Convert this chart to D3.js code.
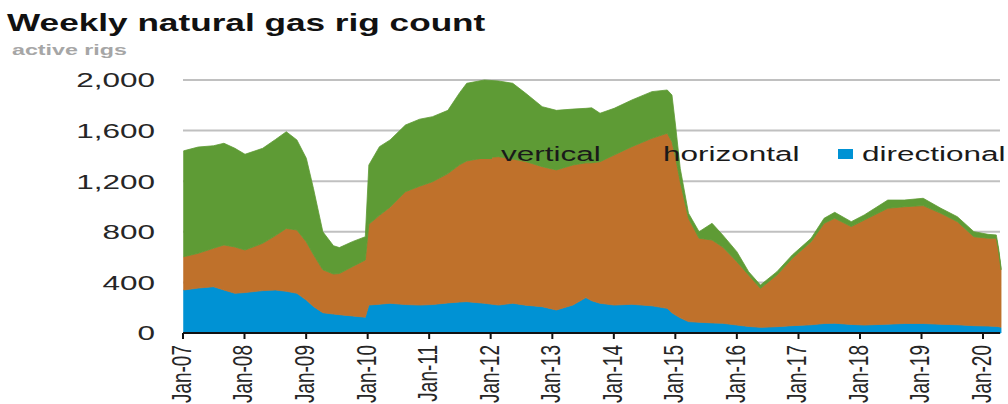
<!DOCTYPE html>
<html lang="en">
<head>
    <meta charset="UTF-8">
    <title>Weekly natural gas rig count</title>
    <style>
        body {
            margin: 0;
            background: #fff;
            font-family: "Liberation Sans", Arial, sans-serif;
        }
        svg { display: block; }
        .grid line { stroke: #c0c0c0; stroke-width: 2px; }
    </style>
</head>
<body>
    <div id="chart"></div>

    <script src="https://d3js.org/d3.v7.min.js"></script>
    <script>
        const dates = [
            "2007-01-05", "2007-04-01", "2007-07-01", "2007-09-01", "2007-11-05",
            "2008-01-04", "2008-04-18", "2008-07-03", "2008-09-05", "2008-11-07",
            "2009-01-02", "2009-02-13", "2009-04-10", "2009-06-12", "2009-07-17",
            "2009-10-02", "2009-12-18", "2010-01-08", "2010-03-12", "2010-05-14",
            "2010-08-13", "2010-11-05", "2011-01-21", "2011-04-22", "2011-07-01",
            "2011-08-12", "2011-11-25", "2012-02-17", "2012-05-11", "2012-07-27",
            "2012-11-02", "2013-01-25", "2013-05-03", "2013-07-19", "2013-08-23",
            "2013-10-11", "2014-01-03", "2014-04-18", "2014-08-15", "2014-11-14",
            "2014-12-12", "2015-01-02", "2015-01-30", "2015-03-20", "2015-05-22",
            "2015-08-07", "2015-10-09", "2016-01-01", "2016-03-11", "2016-05-20",
            "2016-08-26", "2016-11-25", "2017-03-17", "2017-06-02", "2017-08-04",
            "2017-11-10", "2018-01-26", "2018-06-15", "2018-09-21", "2019-01-11",
            "2019-04-26", "2019-08-02", "2019-11-08", "2020-01-31", "2020-03-20",
            "2020-04-03", "2020-04-17"
        ];
        const directional = [
            340, 355, 366, 340, 314, 320, 335, 340, 330, 314,
            260, 210, 160, 150, 145, 135, 125, 221, 228, 235,
            225, 221, 225, 238, 245, 248, 235, 221, 235, 220,
            208, 182, 221, 280, 255, 235, 221, 227, 215, 195,
            160, 142, 120, 90, 85, 80, 77, 63, 52, 45,
            50, 58, 65, 75, 77, 68, 63, 70, 75, 75,
            69, 65, 58, 55, 52, 50, 45
        ];
        const horizontal = [
            263, 275, 304, 356, 366, 336, 374, 430, 497, 500,
            460, 410, 340, 316, 325, 389, 452, 639, 702, 760,
            892, 939, 971, 1022, 1085, 1112, 1150, 1173, 1140, 1135,
            1107, 1107, 1107, 1065, 1090, 1119, 1186, 1246, 1324, 1384,
            1352, 1248, 1076, 817, 664, 655, 603, 501, 406, 308,
            408, 532, 657, 792, 830, 773, 830, 916, 923, 932,
            877, 815, 703, 694, 697, 590, 455
        ];
        const vertical = [
            837, 840, 810, 804, 780, 757, 751, 760, 764, 712,
            661, 524, 300, 224, 205, 198, 184, 468, 543, 531,
            527, 530, 514, 500, 570, 614, 615, 598, 599, 540,
            474, 471, 442, 431, 435, 383, 369, 369, 369, 342,
            369, 254, 106, 40, 52, 132, 95, 79, 27, 26,
            27, 27, 27, 40, 47, 39, 40, 65, 53, 58,
            40, 39, 40, 31, 26, 25, 20
        ];
        const seriesKeys = ["directional", "horizontal", "vertical"];
        const seriesColors = { directional: "#0092d4", horizontal: "#bf712b", vertical: "#5e9b35" };
        const legendOrder = ["vertical", "horizontal", "directional"];
        const yTicks = [0, 400, 800, 1200, 1600, 2000];
        const tickYears = d3.range(2007, 2021);

        const width = 1008, height = 404;
        const sx = 1.5; // the source image is stretched sideways, so is its text

        const svg = d3.select("#chart").append("svg")
            .attr("width", width)
            .attr("height", height);

        const parse = d3.timeParse("%Y-%m-%d");
        const rows = dates.map((d, i) => ({
            date: parse(d),
            directional: directional[i],
            horizontal: horizontal[i],
            vertical: vertical[i]
        }));

        const x = d3.scaleTime()
            .domain([new Date(2007, 0, 1), new Date(2020, 0, 1)])
            .range([183, 983]);
        const y = d3.scaleLinear().domain([0, 2000]).range([333, 80]);

        // gridlines behind the areas
        svg.append("g").attr("class", "grid")
            .selectAll("line")
            .data(yTicks.filter(t => t > 0))
            .join("line")
            .attr("x1", 183).attr("x2", 1000)
            .attr("y1", d => y(d)).attr("y2", d => y(d));

        const stacked = d3.stack().keys(seriesKeys)(rows);
        const area = d3.area()
            .x(d => x(d.data.date))
            .y0(d => y(d[0]))
            .y1(d => y(d[1]));

        svg.append("g").selectAll("path")
            .data(stacked)
            .join("path")
            .attr("d", area)
            .attr("fill", d => seriesColors[d.key])
            .attr("stroke", d => seriesColors[d.key])
            .attr("stroke-width", 0.8);

        // y labels
        svg.append("g").selectAll("text")
            .data(yTicks)
            .join("text")
            .attr("transform", d => `translate(155,${y(d)}) scale(${sx},1)`)
            .attr("dy", "0.35em")
            .attr("text-anchor", "end")
            .attr("font-size", 21)
            .attr("fill", "#262626")
            .text(d3.format(","));

        // x axis
        const xAxis = svg.append("g");
        xAxis.append("line")
            .attr("x1", 183).attr("x2", 1000)
            .attr("y1", 333).attr("y2", 333)
            .attr("stroke", "#111").attr("stroke-width", 2);
        xAxis.selectAll("line.tick")
            .data(tickYears)
            .join("line")
            .attr("class", "tick")
            .attr("x1", d => x(new Date(d, 0, 1))).attr("x2", d => x(new Date(d, 0, 1)))
            .attr("y1", 333).attr("y2", 339)
            .attr("stroke", "#111").attr("stroke-width", 2);
        xAxis.selectAll("text")
            .data(tickYears)
            .join("text")
            .attr("transform", d => `translate(${x(new Date(d, 0, 1)) - 2},345) scale(${sx},1) rotate(-90)`)
            .attr("dy", "0.35em")
            .attr("text-anchor", "end")
            .attr("font-size", 19)
            .attr("fill", "#262626")
            .text(d => d3.timeFormat("%b-%y")(new Date(d, 0, 1)));

        // legend
        const legendX = { vertical: 501, horizontal: 663, directional: 862 };
        const legend = svg.append("g");
        legendOrder.forEach(k => {
            legend.append("rect")
                .attr("x", legendX[k] - 24).attr("y", 149)
                .attr("width", 15).attr("height", 10)
                .attr("fill", seriesColors[k]);
            legend.append("text")
                .attr("transform", `translate(${legendX[k]},161) scale(${sx},1)`)
                .attr("font-size", 21)
                .attr("fill", "#1a1a1a")
                .text(k);
        });

        // title
        svg.append("text")
            .attr("transform", `translate(7,31) scale(1.53,1)`)
            .attr("font-size", 23)
            .attr("font-weight", "bold")
            .attr("fill", "#111")
            .text("Weekly natural gas rig count");
        svg.append("text")
            .attr("transform", `translate(12,55) scale(1.55,1)`)
            .attr("font-size", 15)
            .attr("font-weight", "bold")
            .attr("fill", "#a6a6a6")
            .text("active rigs");
    </script>
</body>
</html>
